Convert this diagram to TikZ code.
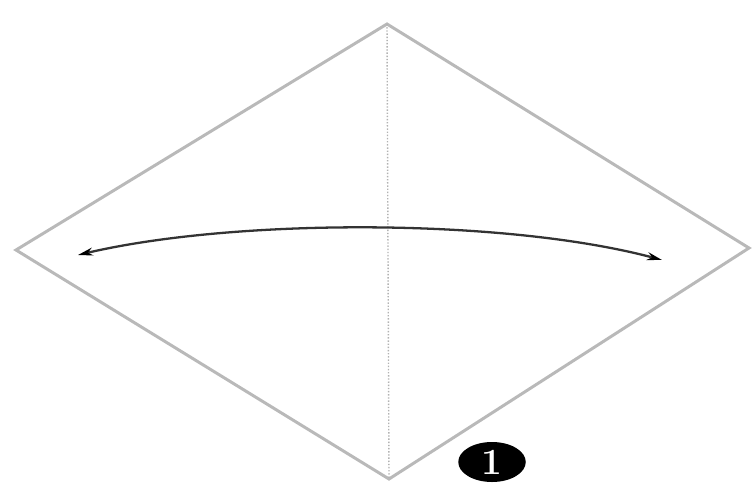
\documentclass[tikz,border=0pt]{standalone}
\usepackage{tikz}
\usetikzlibrary{arrows,arrows.meta,shapes.geometric}

\begin{document}
\begin{tikzpicture}[x=0.04cm, y=-0.04cm]
  \useasboundingbox (0,0) rectangle (752,486);

  % ---- Square sheet, turned as a diamond -----------------------
  \tikzstyle{sheet}=[draw=gray!55, line width=3.4pt, line join=miter]
  \tikzstyle{crease}=[draw=gray!60, line width=1.6pt, dotted]

  \coordinate (top)    at (387, 24);
  \coordinate (left)   at (16, 250);
  \coordinate (right)  at (749, 248);
  \coordinate (bottom) at (389, 479);

  \draw[sheet] (top) -- (right) -- (bottom) -- (left) -- cycle;

  % ---- Centre crease (valley fold line) ------------------------
  \draw[crease] (top) -- (bottom);

  % ---- Fold-and-unfold arrow ----------------------------------
  \coordinate (from) at (78, 255);
  \coordinate (to)   at (662, 260);
  \draw[black!80, line width=2.6pt,
        {Stealth[length=17pt,width=9pt,black]}-{Stealth[length=17pt,width=9pt,black]}]
    (from) .. controls (235, 218) and (505, 218) .. (to);

  % ---- Step number --------------------------------------------
  \node[ellipse, fill=black, inner sep=0pt,
        minimum width=2.7cm, minimum height=1.6cm,
        text=white, font=\fontsize{42}{42}\selectfont\bfseries] (step1) at (492, 462) {1};

\end{tikzpicture}
\end{document}
